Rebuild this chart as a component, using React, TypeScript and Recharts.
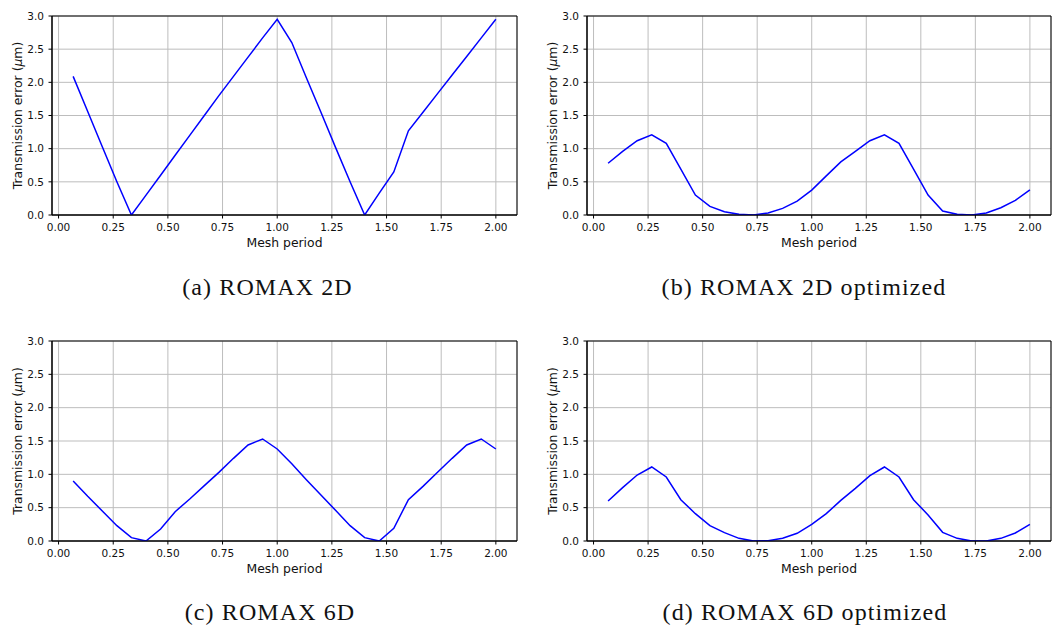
import React from 'react';
import {
  LineChart,
  Line,
  XAxis,
  YAxis,
  CartesianGrid,
  ReferenceArea,
} from 'recharts';

// Mesh period sample positions (shared by all four panels)
const meshPeriod = [
  0.0667, 0.1333, 0.2, 0.2667, 0.3333, 0.4, 0.4667, 0.5333, 0.6, 0.6667,
  0.7333, 0.8, 0.8667, 0.9333, 1.0, 1.0667, 1.1333, 1.2, 1.2667, 1.3333,
  1.4, 1.4667, 1.5333, 1.6, 1.6667, 1.7333, 1.8, 1.8667, 1.9333, 2.0,
];

// Transmission error (µm) for each panel
const romax2D = [
  2.09, 1.56, 1.03, 0.5, 0.0, 0.3, 0.6, 0.9, 1.2, 1.5,
  1.8, 2.09, 2.38, 2.67, 2.95, 2.6, 2.07, 1.55, 1.02, 0.5,
  0.0, 0.33, 0.65, 1.27, 1.55, 1.83, 2.11, 2.39, 2.67, 2.95,
];
const romax2DOptimized = [
  0.78, 0.96, 1.12, 1.21, 1.08, 0.69, 0.3, 0.13, 0.05, 0.01,
  0.0, 0.03, 0.1, 0.21, 0.375, 0.59, 0.8, 0.96, 1.12, 1.21,
  1.08, 0.69, 0.3, 0.06, 0.01, 0.0, 0.03, 0.11, 0.22, 0.38,
];
const romax6D = [
  0.9, 0.67, 0.45, 0.23, 0.05, 0.0, 0.18, 0.44, 0.63, 0.83,
  1.03, 1.24, 1.44, 1.53, 1.38, 1.16, 0.92, 0.69, 0.46, 0.23,
  0.05, 0.0, 0.19, 0.62, 0.82, 1.03, 1.24, 1.44, 1.53, 1.38,
];
const romax6DOptimized = [
  0.6, 0.8, 0.99, 1.11, 0.96, 0.62, 0.41, 0.23, 0.125, 0.04,
  0.0, 0.005, 0.04, 0.115, 0.25, 0.41, 0.61, 0.79, 0.98, 1.11,
  0.96, 0.62, 0.39, 0.13, 0.04, 0.0, 0.0, 0.04, 0.12, 0.25,
];

const xTicks = [0, 0.25, 0.5, 0.75, 1.0, 1.25, 1.5, 1.75, 2.0];
const yTicks = [0, 0.5, 1.0, 1.5, 2.0, 2.5, 3.0];
const xDomain: [number, number] = [-0.0300, 2.0967];
const yDomain: [number, number] = [0, 3];

const captions = [
  '(a) ROMAX 2D',
  '(b) ROMAX 2D optimized',
  '(c) ROMAX 6D',
  '(d) ROMAX 6D optimized',
];

const SANS = 'DejaVu Sans, sans-serif';

const buildData = (values: number[]) =>
  meshPeriod.map((x, i) => ({ x, y: values[i] }));

const YLabel = (props: any) => {
  const vb = props.viewBox || {};
  const cx = vb.x + vb.width - 35;
  const cy = vb.y + vb.height / 2;
  return (
    <text
      x={cx}
      y={cy}
      transform={`rotate(-90 ${cx} ${cy})`}
      textAnchor="middle"
      dominantBaseline="central"
      fontFamily={SANS}
      fontSize={12.4}
      fill="#111"
    >
      Transmission error (<tspan fontStyle="italic">μ</tspan>m)
    </text>
  );
};

const XLabel = (props: any) => {
  const vb = props.viewBox || {};
  return (
    <text
      x={vb.x + vb.width / 2}
      y={vb.y + 31.5}
      textAnchor="middle"
      fontFamily={SANS}
      fontSize={12.4}
      fill="#111"
    >
      Mesh period
    </text>
  );
};

type PanelProps = {
  values: number[];
  left: number;
  top: number;
  yAxisWidth: number;
  marginRight: number;
  marginTop: number;
  marginBottom: number;
};

const Panel = ({ values, left, top, yAxisWidth, marginRight, marginTop, marginBottom }: PanelProps) => (
  <div style={{ position: 'absolute', left, top, width: 526, height: 260 }}>
    <LineChart
      width={526}
      height={260}
      data={buildData(values)}
      margin={{ top: marginTop, right: marginRight, left: 0, bottom: marginBottom }}
    >
      <CartesianGrid stroke="#bdbdbd" strokeWidth={1} />
      <XAxis
        dataKey="x"
        type="number"
        domain={xDomain}
        ticks={xTicks}
        interval={0}
        allowDataOverflow
        height={30}
        tickFormatter={(v: number) => v.toFixed(2)}
        tickSize={3.5}
        tickMargin={5.5}
        tick={{ fontFamily: SANS, fontSize: 10.5, fill: '#111' }}
        axisLine={{ stroke: '#000' }}
        tickLine={{ stroke: '#000' }}
        label={XLabel}
      />
      <YAxis
        type="number"
        domain={yDomain}
        ticks={yTicks}
        interval={0}
        allowDataOverflow
        width={yAxisWidth}
        tickFormatter={(v: number) => v.toFixed(1)}
        tickSize={3.5}
        tickMargin={4.5}
        tick={{ fontFamily: SANS, fontSize: 10.5, fill: '#111' }}
        axisLine={{ stroke: '#000' }}
        tickLine={{ stroke: '#000' }}
        label={YLabel}
      />
      <ReferenceArea
        x1={xDomain[0]}
        x2={xDomain[1]}
        y1={0}
        y2={3}
        fill="none"
        fillOpacity={0}
        stroke="#000"
        strokeWidth={1}
        ifOverflow="visible"
      />
      <Line
        type="linear"
        dataKey="y"
        stroke="#0000ff"
        strokeWidth={1.5}
        dot={false}
        isAnimationActive={false}
      />
    </LineChart>
  </div>
);

const captionPos = [
  { x: 267.5, y: 295 },
  { x: 804, y: 295 },
  { x: 270, y: 620 },
  { x: 805, y: 620 },
];

export default function App() {
  return (
    <div
      style={{
        position: 'absolute',
        left: 0,
        top: 0,
        width: 1052,
        height: 631,
        background: '#fff',
        overflow: 'hidden',
      }}
    >
      <Panel values={romax2D} left={0} top={0} yAxisWidth={52} marginRight={9} marginTop={16} marginBottom={15} />
      <Panel values={romax2DOptimized} left={526} top={0} yAxisWidth={61} marginRight={1} marginTop={16} marginBottom={15} />
      <Panel values={romax6D} left={0} top={325} yAxisWidth={52} marginRight={9} marginTop={16} marginBottom={14} />
      <Panel values={romax6DOptimized} left={526} top={325} yAxisWidth={61} marginRight={1} marginTop={16} marginBottom={14} />
      <svg
        width={1052}
        height={631}
        style={{ position: 'absolute', left: 0, top: 0, pointerEvents: 'none' }}
      >
        {captions.map((c, i) => (
          <text
            key={c}
            x={captionPos[i].x}
            y={captionPos[i].y}
            textAnchor="middle"
            fontFamily="Liberation Serif, serif"
            fontSize={24}
            letterSpacing={1.1}
            fill="#111"
          >
            {c}
          </text>
        ))}
      </svg>
    </div>
  );
}
